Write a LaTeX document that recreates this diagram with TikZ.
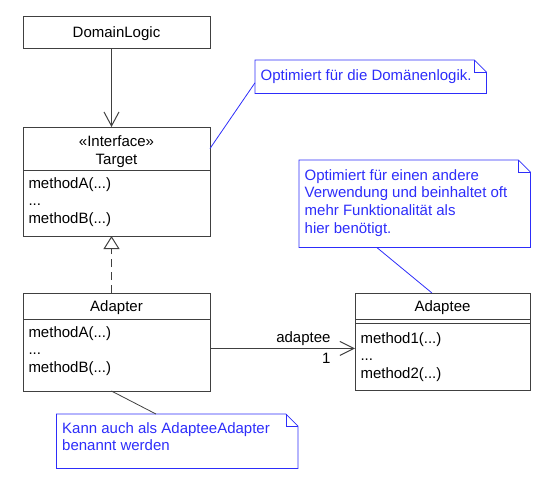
\documentclass[tikz,border=0pt]{standalone}
\usepackage{fontspec}
\setmainfont{Liberation Sans}
\usetikzlibrary{arrows.meta}
\definecolor{noteblue}{RGB}{45,45,250}
\definecolor{linegray}{RGB}{64,64,64}
\newcommand{\toptext}[4]{\parbox[t][#1][t]{#2}{\rule{0pt}{#3}#4}}

\begin{document}
\begin{tikzpicture}[
    x=1pt,
    y=-1pt,
    every node/.style={
        font=\fontsize{15}{17.6}\selectfont
    },
    classname/.style={
        rectangle,
        draw=linegray,
        line width=1pt,
        fill=white,
        minimum width=187pt,
        inner sep=0pt,
        outer sep=0pt,
        text height=12pt,
        text depth=1pt
    },
    classpart/.style={
        rectangle,
        draw=linegray,
        line width=1pt,
        fill=white,
        inner xsep=5.5pt,
        inner ysep=0pt,
        outer sep=0pt,
        anchor=north
    },
    notebox/.style={
        inner xsep=5.5pt,
        inner ysep=0pt,
        anchor=north west,
        text=noteblue
    },
    noteline/.style={
        draw=noteblue,
        line width=0.8pt
    },
    assoc/.style={
        draw=linegray,
        line width=1pt,
        -{Straight Barb[length=14pt,width=15pt]}
    },
    realize/.style={
        draw=linegray,
        line width=1pt,
        dash pattern=on 8pt off 5pt,
        -{Triangle[open,length=13pt,width=16pt]}
    }
]
\useasboundingbox (0,0) rectangle (543,480);

% Classes
\node[classname, minimum height=32pt] (domainlogic) at (116.5,32) {DomainLogic};

\node[classname, anchor=north, minimum height=43pt, align=center,
      text height=31.5pt, text depth=0pt] (targethead) at (116.5,127) {«Interface»\\Target};
\node[classpart, minimum width=187pt] (targetbody) at (targethead.south)
    {\toptext{66pt}{176pt}{18pt}{methodA(...)\\...\\methodB(...)}};

\node[classname, anchor=north, minimum height=26pt] (adapterhead) at (116.5,293) {Adapter};
\node[classpart, minimum width=187pt] (adapterbody) at (adapterhead.south)
    {\toptext{72pt}{176pt}{18pt}{methodA(...)\\...\\methodB(...)}};

\node[classname, anchor=north, minimum width=175pt, minimum height=26pt] (adapteehead) at (442.5,293) {Adaptee};
\node[classpart, minimum width=175pt, minimum height=4pt] (adapteeattr) at (adapteehead.south) {};
\node[classpart, minimum width=175pt] (adapteebody) at (adapteeattr.south)
    {\toptext{67pt}{164pt}{20pt}{method1(...)\\...\\method2(...)}};

% Notes
\node[notebox] (notea) at (255,60)
    {\toptext{33pt}{220pt}{20pt}{Optimiert für die Domänenlogik.}};
\node[notebox] (noteb) at (299,160)
    {\toptext{87pt}{220pt}{20pt}{Optimiert für einen andere\\Verwendung und beinhaltet oft\\mehr Funktionalität als\\hier benötigt.}};
\node[notebox] (notec) at (56.5,414)
    {\toptext{54pt}{230pt}{19pt}{Kann auch als AdapteeAdapter\\benannt werden}};

\foreach \n in {notea,noteb,notec} {
    \draw[noteline] (\n.south west) -- (\n.north west) -- ([xshift=-12pt]\n.north east)
        -- ([yshift=-12pt]\n.north east) -- (\n.south east) -- cycle;
    \draw[noteline] ([xshift=-12pt]\n.north east) |- ([yshift=-12pt]\n.north east);
}

% Edges
\draw[assoc] ([xshift=-5pt]domainlogic.south) -- ([xshift=-5pt]targethead.north);
\draw[realize] ([xshift=-5pt]adapterhead.north) -- ([xshift=-5pt]targetbody.south);
\draw[assoc, -{Straight Barb[length=14pt,width=14pt]}] (adapterbody.4) -- (adapterbody.4 -| adapteebody.west)
    node[pos=1, anchor=south east, xshift=-24pt, inner xsep=0pt, inner ysep=2pt] {adaptee}
    node[pos=1, anchor=north east, xshift=-24pt, inner xsep=0pt, inner ysep=4pt] {1};

\draw[noteline] (targethead.east) -- (notea.183);
\draw[noteline] (noteb.229) -- (adapteehead.129);
\draw[draw=linegray, line width=0.8pt] (adapterbody.262) -- (notec.128);

\end{tikzpicture}
\end{document}
